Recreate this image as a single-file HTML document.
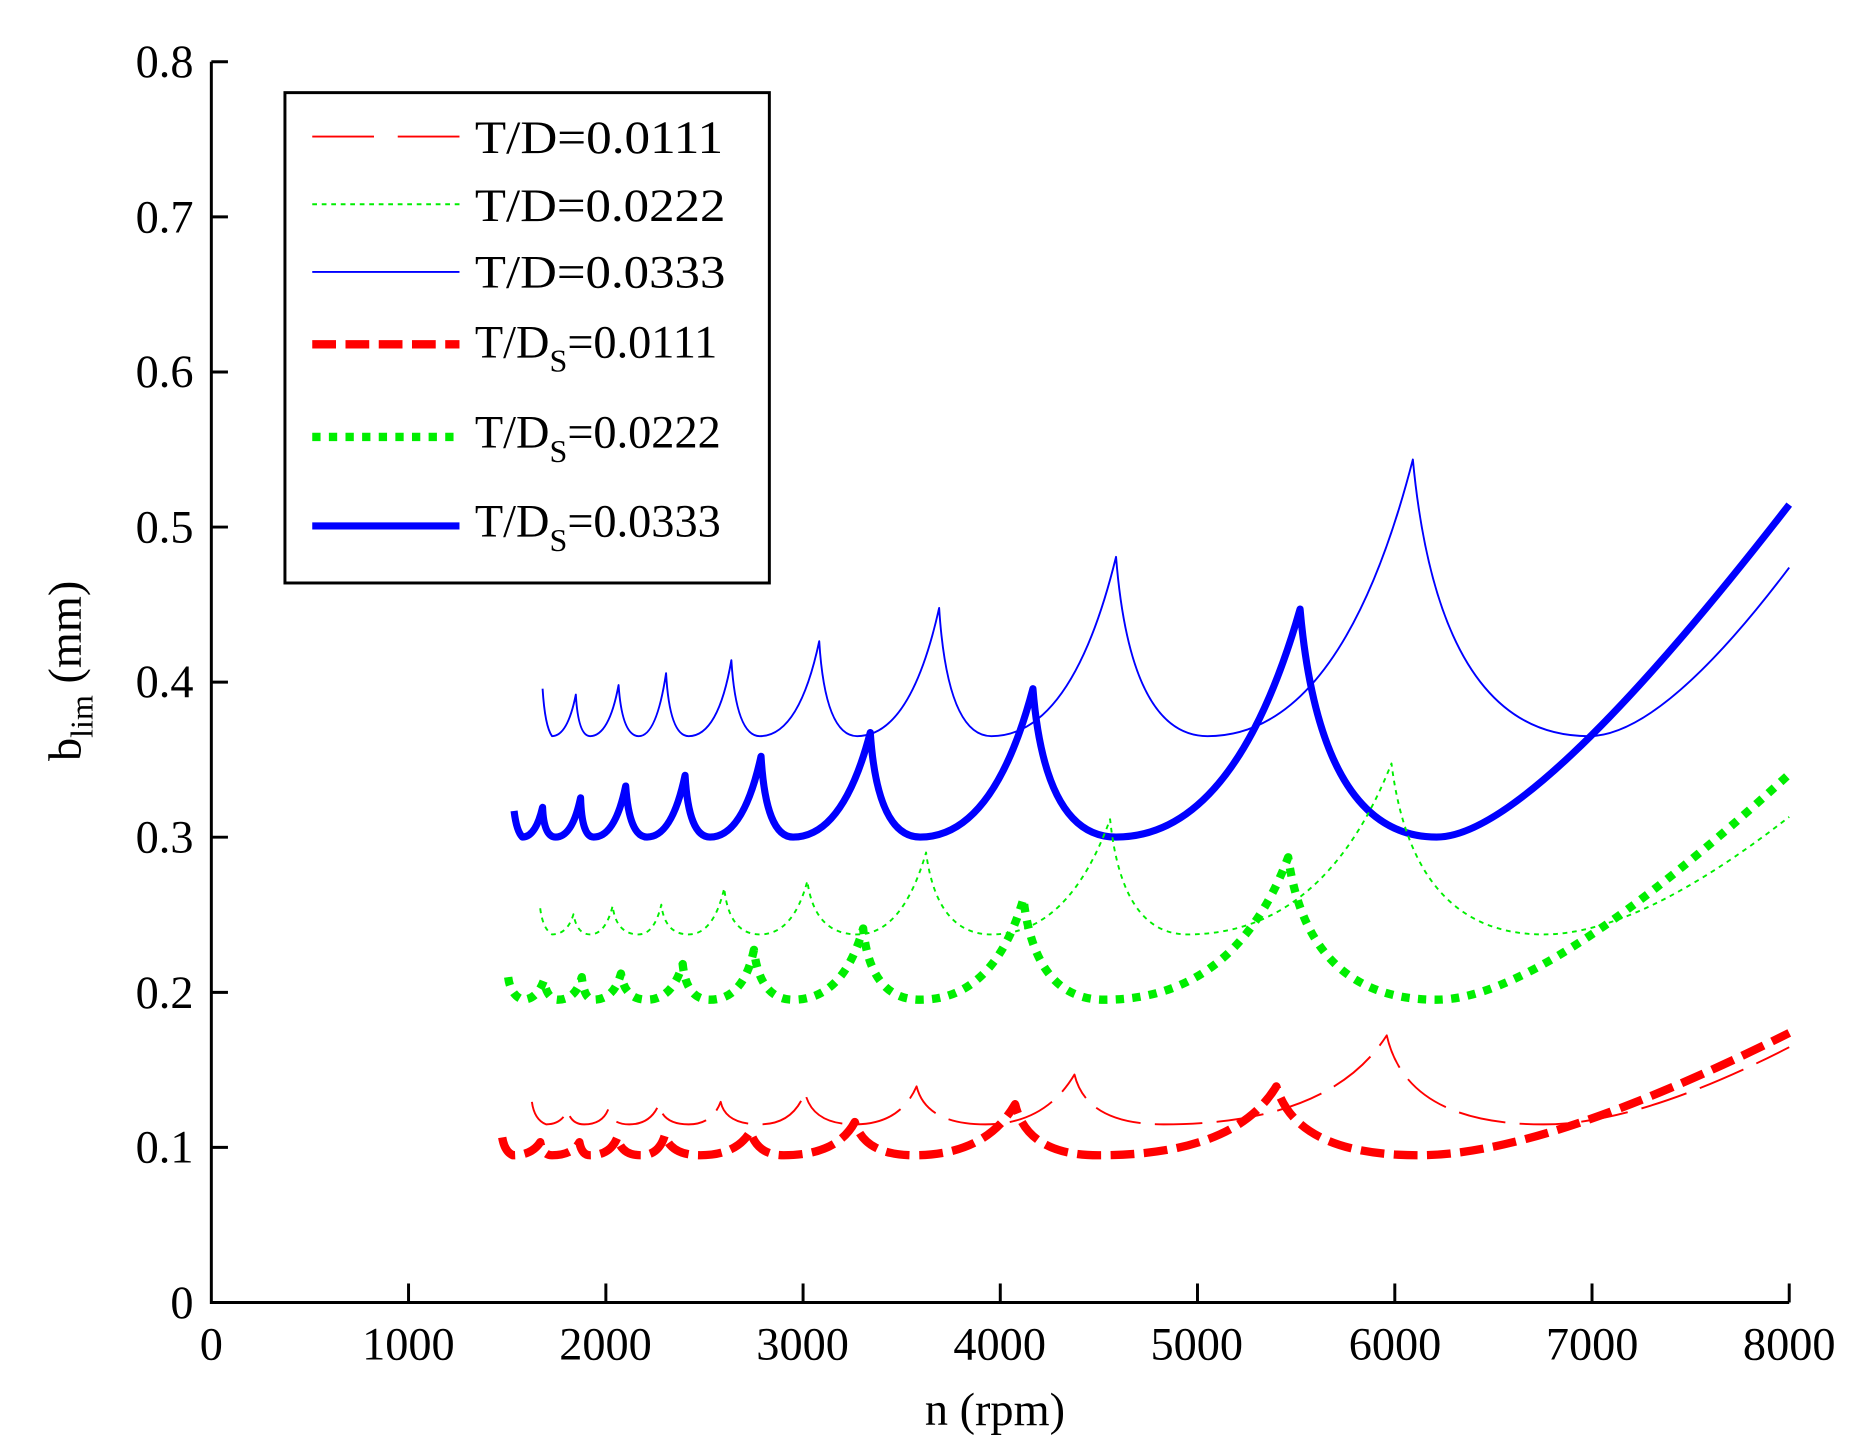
<!DOCTYPE html>
<html><head><meta charset="utf-8"><style>html,body{margin:0;padding:0;background:#fff}svg{display:block}</style></head>
<body>
<svg width="1862" height="1454" viewBox="0 0 1568.3 1224.6" xmlns="http://www.w3.org/2000/svg" font-family="'Liberation Serif', serif">
<rect width="1570" height="1226" fill="#fff"/>
<path d="M178,52 V1097 H1507" fill="none" stroke="#000" stroke-width="2.5"/>
<g stroke="#000" stroke-width="2.5">
<line x1="178" y1="52" x2="192" y2="52"/><line x1="178" y1="182.6" x2="192" y2="182.6"/>
<line x1="178" y1="313.3" x2="192" y2="313.3"/><line x1="178" y1="443.9" x2="192" y2="443.9"/>
<line x1="178" y1="574.5" x2="192" y2="574.5"/><line x1="178" y1="705.1" x2="192" y2="705.1"/>
<line x1="178" y1="835.8" x2="192" y2="835.8"/><line x1="178" y1="966.4" x2="192" y2="966.4"/>
<line x1="344.1" y1="1097" x2="344.1" y2="1081"/><line x1="510.3" y1="1097" x2="510.3" y2="1081"/>
<line x1="676.4" y1="1097" x2="676.4" y2="1081"/><line x1="842.5" y1="1097" x2="842.5" y2="1081"/>
<line x1="1008.6" y1="1097" x2="1008.6" y2="1081"/><line x1="1174.8" y1="1097" x2="1174.8" y2="1081"/>
<line x1="1340.9" y1="1097" x2="1340.9" y2="1081"/><line x1="1507" y1="1097" x2="1507" y2="1081"/>
</g>
<g font-size="39" text-anchor="end" fill="#000">
<text x="163" y="65">0.8</text><text x="163" y="196">0.7</text><text x="163" y="326">0.6</text>
<text x="163" y="457">0.5</text><text x="163" y="587">0.4</text><text x="163" y="718">0.3</text>
<text x="163" y="849">0.2</text><text x="163" y="979">0.1</text><text x="163" y="1110">0</text>
</g>
<g font-size="39" text-anchor="middle" fill="#000">
<text x="178" y="1145">0</text><text x="344" y="1145">1000</text><text x="510" y="1145">2000</text>
<text x="676" y="1145">3000</text><text x="842" y="1145">4000</text><text x="1008" y="1145">5000</text>
<text x="1175" y="1145">6000</text><text x="1341" y="1145">7000</text><text x="1507" y="1145">8000</text>
<text x="838" y="1200">n (rpm)</text>
</g>
<text transform="translate(68,565) rotate(-90)" font-size="39" text-anchor="middle">b<tspan font-size="27" dy="10">lim</tspan><tspan dy="-10"> (mm)</tspan></text>

<g fill="none" stroke-linejoin="round">
<path stroke="#0000ff" stroke-width="1.6" d="M457,580 Q459,612 465,620 Q478,620 485,585 Q487,620 497,620 Q513,620 521,577 Q524,620 538,620 Q553,620 561,567 Q564,620 580,620 Q605,620 616,556 Q620,620 640,620 Q673,620 690,540 Q695,620 722,620 Q767,620 791,512 Q798,620 835,620 Q903,620 940,469 Q952,620 1017,620 Q1130,620 1190,387 Q1212,620 1338,620 Q1400,620 1507,478"/>
<path stroke="#0000ff" stroke-width="6" d="M433,683 Q435,700 440,705 Q451,705 457,680 Q458,705 468,705 Q482,705 489,672 Q490,705 500,705 Q518,705 527,662 Q530,705 545,705 Q566,705 577,653 Q580,705 598,705 Q626,705 641,637 Q645,705 668,705 Q710,705 733,617 Q739,705 775,705 Q837,705 870,580 Q880,705 940,705 Q1040,705 1095,513 Q1112,705 1210,705 Q1290,705 1507,425"/>
<path stroke="#00ee00" stroke-width="1.6" stroke-dasharray="4,4" d="M455,765 Q457,782 465,787 Q478,787 483,770 Q486,787 497,787 Q510,787 516,763 Q519,787 538,787 Q551,787 557,762 Q560,787 580,787 Q601,787 610,748 Q614,787 640,787 Q668,787 680,742 Q686,787 722,787 Q760,787 780,718 Q789,787 835,787 Q900,787 935,690 Q945,787 1000,787 Q1115,787 1172,643 Q1190,787 1300,787 Q1380,787 1507,688"/>
<path stroke="#00ee00" stroke-width="7" stroke-dasharray="7,7" d="M428,823 Q430,838 440,842 Q452,842 458,826 Q461,842 470,842 Q485,842 490,823 Q492,842 500,842 Q517,842 523,820 Q526,842 545,842 Q566,842 575,812 Q578,842 598,842 Q626,842 635,800 Q640,842 668,842 Q710,842 727,782 Q733,842 775,842 Q837,842 862,757 Q872,842 930,842 Q1040,842 1085,722 Q1102,842 1210,842 Q1300,842 1507,652"/>
<path stroke="#ff0000" stroke-width="1.6" stroke-dasharray="40,12" d="M448,928 Q450,943 460,947 Q473,947 478,935 Q481,947 492,947 Q507,947 512,935 Q515,947 530,947 Q548,947 555,930 Q558,947 580,947 Q600,947 607,928 Q611,947 640,947 Q668,947 678,920 Q684,947 720,947 Q758,947 772,915 Q780,947 830,947 Q880,947 905,905 Q915,947 980,947 Q1120,947 1168,872 Q1185,947 1300,947 Q1380,947 1507,882"/>
<path stroke="#ff0000" stroke-width="7" stroke-dasharray="20,8" d="M423,958 Q425,970 432,973 Q448,973 455,962 Q457,973 465,973 Q482,973 488,962 Q490,973 497,973 Q514,973 520,958 Q523,973 540,973 Q555,973 560,956 Q565,973 590,973 Q620,973 632,953 Q638,973 660,973 Q705,973 720,945 Q728,973 770,973 Q830,973 855,930 Q865,973 925,973 Q1040,973 1075,915 Q1092,973 1195,973 Q1300,973 1507,870"/>
</g>

<rect x="240" y="78" width="408" height="413" fill="#fff" stroke="#000" stroke-width="2.5"/>
<g fill="none">
<line x1="263" y1="115" x2="387" y2="115" stroke="#ff0000" stroke-width="1.6" stroke-dasharray="52,20"/>
<line x1="263" y1="172" x2="387" y2="172" stroke="#00ee00" stroke-width="1.6" stroke-dasharray="4,4"/>
<line x1="263" y1="229" x2="387" y2="229" stroke="#0000ff" stroke-width="1.6"/>
<line x1="263" y1="290" x2="387" y2="290" stroke="#ff0000" stroke-width="7" stroke-dasharray="20,8"/>
<line x1="263" y1="368" x2="387" y2="368" stroke="#00ee00" stroke-width="7" stroke-dasharray="7,7"/>
<line x1="263" y1="443" x2="387" y2="443" stroke="#0000ff" stroke-width="6"/>
</g>
<g font-size="39" fill="#000">
<text x="400" y="129" textLength="209" lengthAdjust="spacingAndGlyphs">T/D=0.0111</text>
<text x="400" y="186" textLength="211" lengthAdjust="spacingAndGlyphs">T/D=0.0222</text>
<text x="400" y="242" textLength="211" lengthAdjust="spacingAndGlyphs">T/D=0.0333</text>
<text x="400" y="301">T/D<tspan font-size="27" dy="12">S</tspan><tspan dy="-12">=0.0111</tspan></text>
<text x="400" y="377">T/D<tspan font-size="27" dy="12">S</tspan><tspan dy="-12">=0.0222</tspan></text>
<text x="400" y="452">T/D<tspan font-size="27" dy="12">S</tspan><tspan dy="-12">=0.0333</tspan></text>
</g>
</svg>
</body></html>
